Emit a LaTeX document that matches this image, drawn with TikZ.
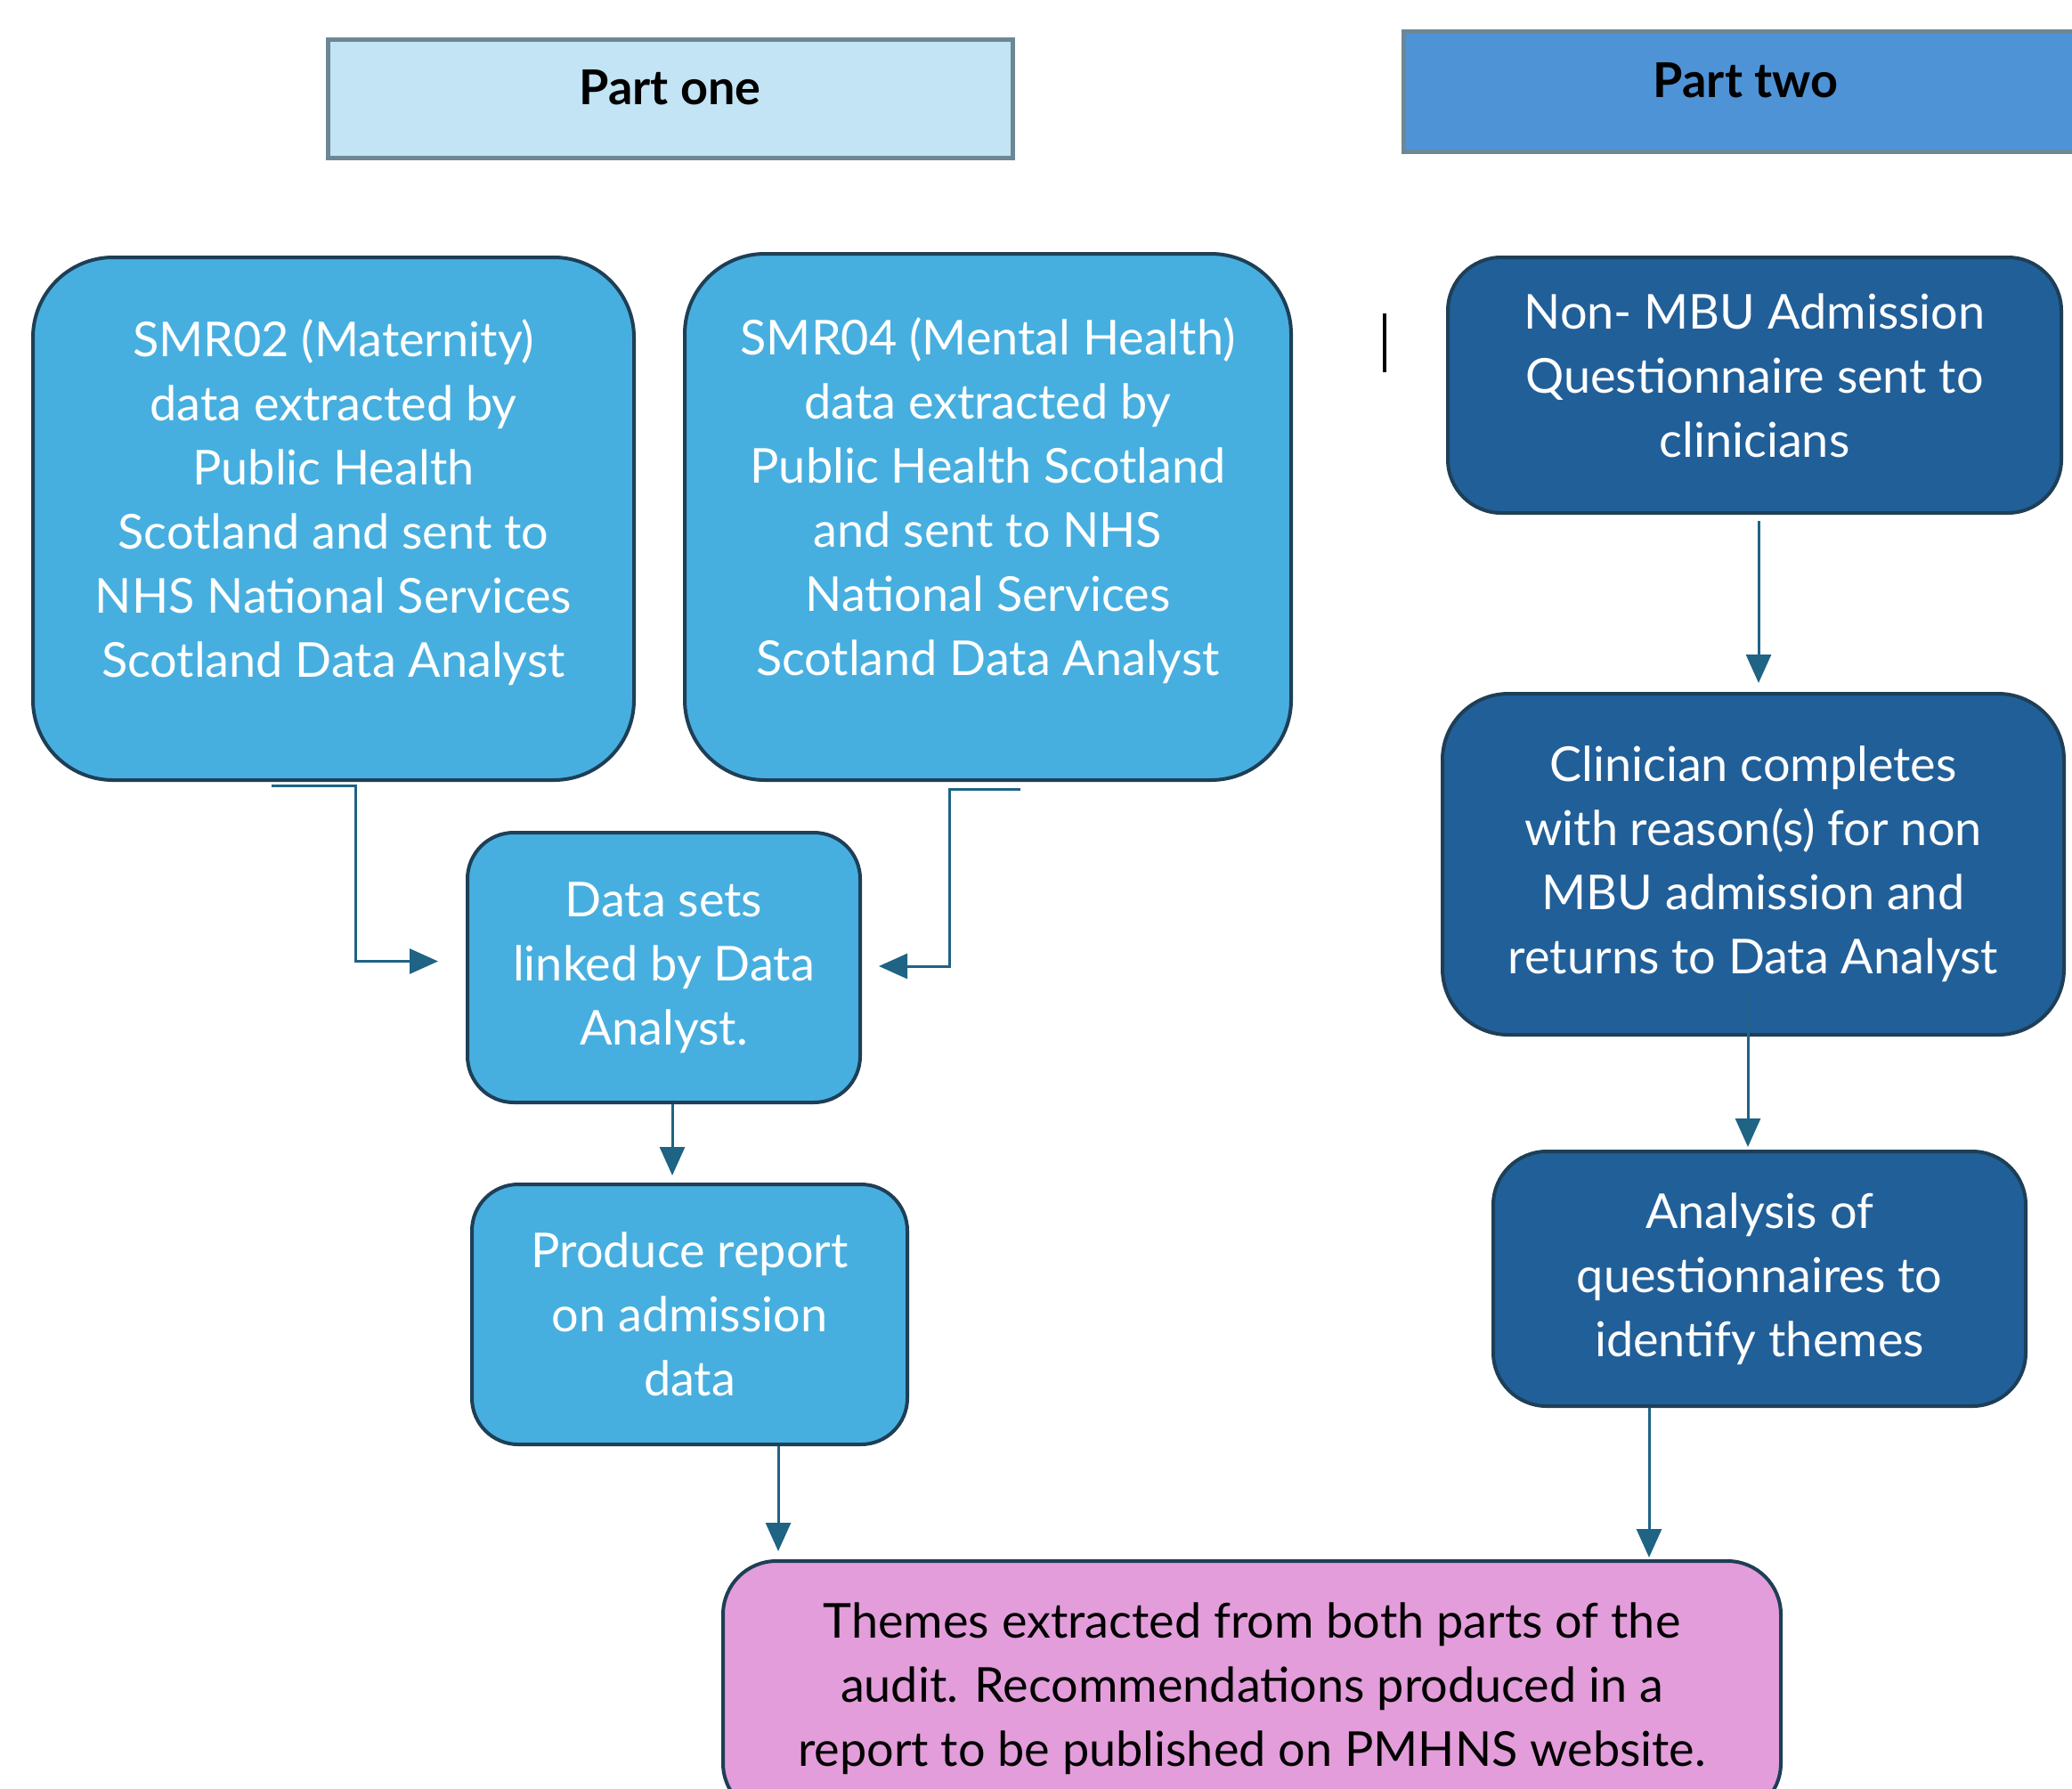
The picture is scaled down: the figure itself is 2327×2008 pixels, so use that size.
\documentclass[tikz,border=0pt]{standalone}
\usepackage{fontspec}
\setmainfont{Lato}
\usetikzlibrary{arrows.meta,calc}

\definecolor{partonefill}{HTML}{C2E4F4}
\definecolor{parttwofill}{HTML}{4F93D7}
\definecolor{partline}{HTML}{6E8794}
\definecolor{midblue}{HTML}{47AFDF}
\definecolor{darkblue}{HTML}{215F99}
\definecolor{pinkfill}{HTML}{E39DDA}
\definecolor{boxline}{HTML}{1E3F56}
\definecolor{linkcol}{HTML}{1F6385}

\tikzset{every picture/.style={line width=0.75pt}}
\tikzset{
  partbox/.style={draw=partline, line width=2.5pt, align=center, inner sep=0pt, text depth=12.5pt,
    font=\fontsize{27}{36}\selectfont\bfseries},
  flowbox/.style={draw=boxline, line width=2pt, align=center, inner sep=0pt,
    text=white, font=\fontsize{27}{36}\selectfont},
  link/.style={draw=linkcol, line width=1.5pt, -{Triangle[width=14pt,length=16pt]}},
}

\begin{document}
\begin{tikzpicture}[x=0.5pt,y=0.5pt,yscale=-1,xscale=1]
    \useasboundingbox (0,0) rectangle (2327,2008);
    \clip (0,0) rectangle (2327,2008);

    % Headers
    \node (partone) at (752.5,110.5) [partbox, fill=partonefill, minimum width=384.5pt, minimum height=66.5pt] {Part one};
    \node (parttwo) at (1960.5,102.5) [partbox, fill=parttwofill, minimum width=384.5pt, minimum height=67.5pt] {Part two};

    % Part one boxes
    \node (smr02) at (374.5,582.5) [flowbox, fill=midblue, rounded corners=45pt, text depth=23pt, minimum width=337.5pt, minimum height=293.5pt]
      {SMR02 (Maternity)\\data extracted by\\Public Health\\Scotland and sent to\\NHS National Services\\Scotland Data Analyst};
    \node (smr04) at (1109.5,580.5) [flowbox, fill=midblue, rounded corners=45pt, text depth=23pt, minimum width=340.5pt, minimum height=295.5pt]
      {SMR04 (Mental Health)\\data extracted by\\Public Health Scotland\\and sent to NHS\\National Services\\Scotland Data Analyst};
    \node (linked) at (745.5,1086.5) [flowbox, fill=midblue, rounded corners=26pt, minimum width=220.5pt, minimum height=151.5pt]
      {Data sets\\linked by Data\\Analyst.};
    \node (report) at (774.5,1476) [flowbox, fill=midblue, rounded corners=26pt, minimum width=244.5pt, minimum height=146pt]
      {Produce report\\on admission\\data};

    % Part two boxes
    \node (nonmbu) at (1970.5,432.5) [flowbox, fill=darkblue, rounded corners=30pt, text depth=11pt, minimum width=344.5pt, minimum height=143.5pt]
      {Non- MBU Admission\\Questionnaire sent to\\clinicians};
    \node (clin) at (1969,970.5) [flowbox, fill=darkblue, rounded corners=37pt, minimum width=349pt, minimum height=191.5pt]
      {Clinician completes\\with reason(s) for non\\MBU admission and\\returns to Data Analyst};
    \node (analysis) at (1976,1436) [flowbox, fill=darkblue, rounded corners=30pt, minimum width=299pt, minimum height=143pt]
      {Analysis of\\questionnaires to\\identify themes};

    % Final box
    \node (themes) at (1406,1896.5) [flowbox, fill=pinkfill, text=black, rounded corners=30pt, minimum width=594pt, minimum height=143.5pt]
      {Themes extracted from both parts of the\\audit. Recommendations produced in a\\report to be published on PMHNS website.};

    % stray bar
    \draw [line width=2pt] (1555,352) -- (1555,418);

    % Connectors
    \draw [link] ($(smr02.south)+(-70,4)$) -- ++(95,0) |- ($(linked.west)+(-31,-7)$);
    \draw [link] ($(smr04.south)+(36.5,8)$) -- ++(-80,0) |- ($(linked.east)+(19,-1.5)$);
    \draw [link] ($(linked.south)+(9.5,0)$) -- ($(report.north)+(-19.5,-8)$);
    \draw [link] ($(report.south)+(99.5,0)$) -- ($(themes.north)+(-532,-9)$);
    \draw [link] ($(nonmbu.south)+(4.5,7)$) -- ($(clin.north)+(6,-10)$);
    \draw [link] ($(clin.south)+(-6,-49)$) -- ($(analysis.north)+(-13,-3)$);
    \draw [link] ($(analysis.south)+(-124,0)$) -- ($(themes.north)+(446,-2)$);
\end{tikzpicture}
\end{document}
